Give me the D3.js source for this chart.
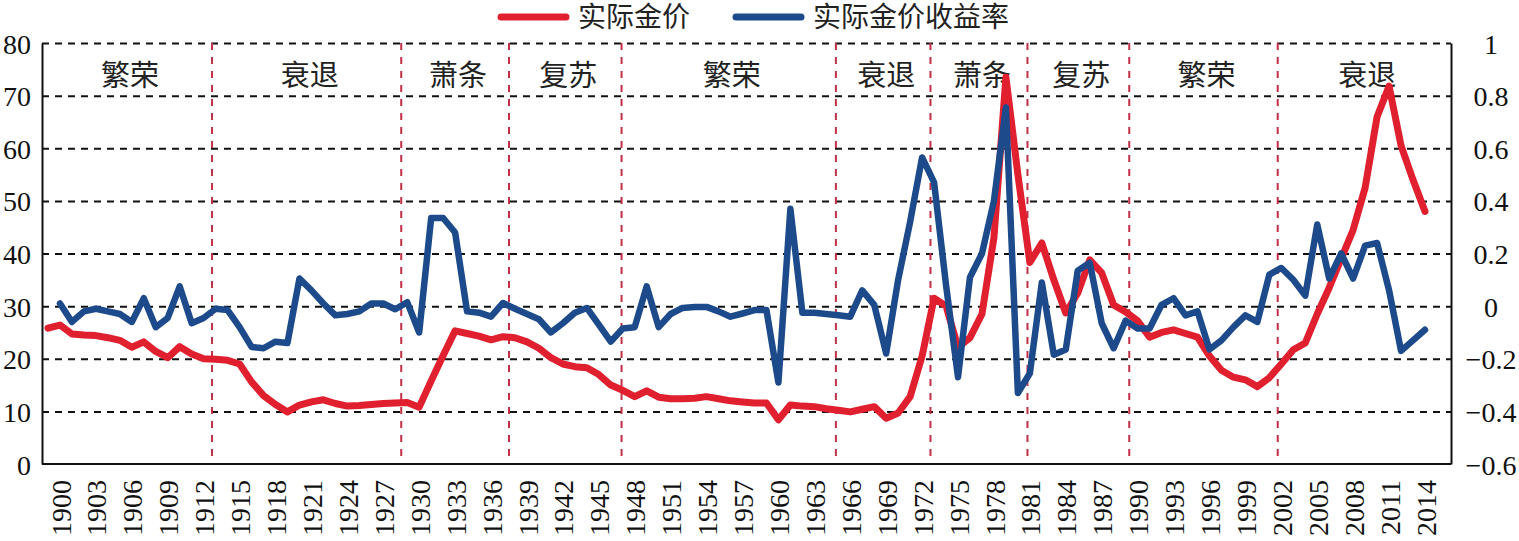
<!DOCTYPE html>
<html>
<head>
<meta charset="utf-8">
<script src="https://cdn.jsdelivr.net/npm/d3@7"></script>
<style>
  body { margin: 0; background: #fff; }
</style>
</head>
<body>
<div id="chart-area"></div>
<script>

// DATA
var priceYears = d3.range(1899, 2015);   // real gold price, 1899..2014
var price = [
  25.8,
  26.4, 24.7, 24.5, 24.4, 24.0, 23.5, 22.2, 23.2, 21.4, 20.2,
  22.3, 20.9, 20.0, 19.9, 19.7, 19.0, 15.6, 13.0, 11.3, 9.9,
  11.2, 11.8, 12.2, 11.5, 11.0, 11.1, 11.3, 11.5, 11.6, 11.7,
  10.8, 15.8, 20.6, 25.3, 24.8, 24.3, 23.6, 24.2, 24.0, 23.2,
  22.0, 20.2, 19.0, 18.5, 18.3, 17.0, 15.0, 14.0, 12.8, 13.9,
  12.7, 12.4, 12.4, 12.5, 12.8, 12.4, 12.0, 11.8, 11.6, 11.6,
  8.4, 11.2, 11.0, 10.9, 10.5, 10.2, 9.9, 10.4, 10.9, 8.7,
  9.7, 12.8, 20.5, 31.5, 30.0, 22.2, 24.0, 28.5, 43.0, 73.5,
  55.0, 38.3, 42.0, 35.0, 28.7, 32.5, 38.8, 36.3, 30.2, 28.9,
  27.2, 24.1, 25.0, 25.5, 24.8, 24.1, 20.5, 17.8, 16.5, 16.0,
  14.7, 16.4, 19.0, 21.7, 23.0, 28.5, 33.5, 39.0, 44.5, 52.5,
  66.0, 71.8, 60.5, 54.0, 48.0
];

var returnYears = d3.range(1900, 2015);  // real gold return, 1900..2014
var returns = [
  0.01, -0.06, -0.02, -0.01, -0.02, -0.03, -0.06, 0.03, -0.08, -0.045,
  0.075, -0.065, -0.045, -0.01, -0.015, -0.08, -0.155, -0.16, -0.135, -0.14,
  0.105, 0.06, 0.01, -0.035, -0.03, -0.02, 0.01, 0.01, -0.012, 0.015,
  -0.10, 0.335, 0.335, 0.28, -0.02, -0.025, -0.04, 0.012, -0.01, -0.03,
  -0.05, -0.10, -0.065, -0.025, -0.007, -0.07, -0.135, -0.085, -0.08, 0.075,
  -0.08, -0.03, -0.007, -0.003, -0.003, -0.02, -0.04, -0.028, -0.015, -0.015,
  -0.29, 0.37, -0.025, -0.025, -0.03, -0.035, -0.04, 0.06, 0.005, -0.18,
  0.10, 0.32, 0.565, 0.47, 0.08, -0.27, 0.11, 0.20, 0.40, 0.755,
  -0.33, -0.255, 0.09, -0.185, -0.165, 0.135, 0.165, -0.065, -0.16, -0.055,
  -0.085, -0.085, 0.005, 0.03, -0.035, -0.02, -0.165, -0.13, -0.08, -0.035,
  -0.06, 0.12, 0.145, 0.10, 0.04, 0.31, 0.105, 0.20, 0.105, 0.23,
  0.24, 0.06, -0.17, -0.13, -0.09
];

var phaseNames = ["繁荣", "衰退", "萧条", "复苏", "繁荣", "衰退", "萧条", "复苏", "繁荣", "衰退"];
var phaseBreaks = [1912.7, 1928.5, 1937.5, 1946.9, 1964.8, 1972.7, 1980.8, 1989.3, 2001.7];

var xTicks = d3.range(1900, 2015, 3);
var leftTicks = d3.range(0, 81, 10);
var rightTicks = [-0.6, -0.4, -0.2, 0, 0.2, 0.4, 0.6, 0.8, 1];

var seriesNames = ["实际金价", "实际金价收益率"];
var colors = ["#e0202f", "#1c4a8a"];

// SETUP
var width = 1519,
    height = 541;
var plotLeft = 42, plotRight = 1451, plotTop = 43, plotBottom = 464;
var numFont = '"Times New Roman", "Liberation Serif", "DejaVu Serif", serif';
var cjkFont = '"Noto Sans CJK SC", sans-serif';

var svg = d3.select("#chart-area").append("svg")
    .attr("width", width)
    .attr("height", height);

var x = d3.scaleLinear().domain([1899, 2014]).range([48, 1425]);
var yL = d3.scaleLinear().domain([0, 80]).range([plotBottom, plotTop]);
var yR = d3.scaleLinear().domain([-0.6, 1]).range([plotBottom, plotTop]);

// GRID (dashed, from left axis ticks)
svg.append("g")
    .attr("transform", "translate(" + plotLeft + ",0)")
    .call(d3.axisLeft(yL).tickValues(leftTicks.slice(1)).tickSize(-(plotRight - plotLeft)).tickFormat(""))
    .call(g => g.select(".domain").remove())
    .selectAll("line")
    .attr("stroke", "#111")
    .attr("stroke-width", 2)
    .attr("stroke-dasharray", "7,6");

// PHASE LINES
svg.selectAll(".phase-line")
    .data(phaseBreaks)
    .enter()
    .append("line")
    .attr("class", "phase-line")
    .attr("x1", d => x(d)).attr("x2", d => x(d))
    .attr("y1", plotTop).attr("y2", plotBottom)
    .attr("stroke", "#c23046")
    .attr("stroke-width", 2)
    .attr("stroke-dasharray", "7,7");

// PHASE LABELS
var edges = [x.invert(plotLeft)].concat(phaseBreaks, [x.invert(plotRight)]);
svg.selectAll(".phase-label")
    .data(phaseNames)
    .enter()
    .append("text")
    .attr("class", "phase-label")
    .attr("x", (d, i) => (x(edges[i]) + x(edges[i + 1])) / 2 + 3)
    .attr("y", 73)
    .attr("dominant-baseline", "central")
    .attr("text-anchor", "middle")
    .style("font-family", cjkFont)
    .style("font-size", "29px")
    .style("fill", "#222")
    .text(d => d);

function styleNum(sel) {
  sel.style("font-family", numFont)
     .style("font-size", "28px")
     .style("fill", "#111");
}

// LEFT AXIS
var gL = svg.append("g")
    .attr("transform", "translate(" + plotLeft + ",0)")
    .call(d3.axisLeft(yL).tickValues(leftTicks).tickSize(0).tickPadding(11));
gL.select(".domain").attr("stroke", "#111").attr("stroke-width", 2);
gL.selectAll("text").call(styleNum).attr("dy", "0.36em");

// RIGHT AXIS
var gR = svg.append("g")
    .attr("transform", "translate(" + plotRight + ",0)")
    .call(d3.axisRight(yR).tickValues(rightTicks).tickSize(0)
      .tickFormat(d => d3.format("")(d).replace("-", "\u2212")));
gR.select(".domain").attr("stroke", "#111").attr("stroke-width", 2);
gR.selectAll("text").call(styleNum).attr("x", 40).attr("dy", "0.36em").style("text-anchor", "middle");

// BOTTOM AXIS
var gX = svg.append("g")
    .attr("transform", "translate(0," + plotBottom + ")")
    .call(d3.axisBottom(x).tickValues(xTicks).tickSize(0).tickFormat(d3.format("d")));
gX.select(".domain").attr("d", "M" + plotLeft + ",0H" + plotRight).attr("stroke", "#111").attr("stroke-width", 2);
gX.selectAll("text")
    .call(styleNum)
    .attr("transform", "rotate(-90)")
    .attr("x", -16)
    .attr("y", 0)
    .attr("dy", "0.36em")
    .style("text-anchor", "end");

// LINES
var linePrice = d3.line()
    .x((d, i) => x(priceYears[i]))
    .y(d => yL(d));

var lineReturn = d3.line()
    .x((d, i) => x(returnYears[i]))
    .y(d => yR(d));

svg.append("path")
    .datum(price)
    .attr("d", linePrice)
    .attr("fill", "none")
    .attr("stroke", colors[0])
    .attr("stroke-width", 7)
    .attr("stroke-linejoin", "round")
    .attr("stroke-linecap", "round");

svg.append("path")
    .datum(returns)
    .attr("d", lineReturn)
    .attr("fill", "none")
    .attr("stroke", colors[1])
    .attr("stroke-width", 6.5)
    .attr("stroke-linejoin", "round")
    .attr("stroke-linecap", "round");

// LEGEND
var legendX = [498, 733];
var legend = svg.selectAll(".legend")
    .data(seriesNames)
    .enter()
    .append("g")
    .attr("class", "legend")
    .attr("transform", (d, i) => "translate(" + legendX[i] + ",17)");

legend.append("line")
    .attr("x1", 3).attr("x2", 68)
    .attr("stroke", (d, i) => colors[i])
    .attr("stroke-width", 7)
    .attr("stroke-linecap", "round");

legend.append("text")
    .attr("x", 80)
    .attr("y", 0)
    .attr("dy", "0.36em")
    .style("font-family", cjkFont)
    .style("font-size", "28px")
    .style("fill", "#222")
    .text(d => d);

</script>
</body>
</html>
